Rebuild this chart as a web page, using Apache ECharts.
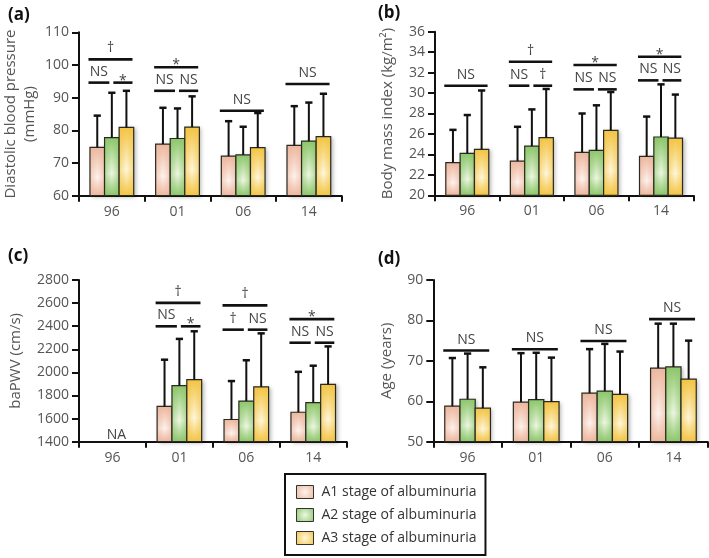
<!DOCTYPE html>
<html>
<head>
<meta charset="utf-8">
<script src="https://cdn.jsdelivr.net/npm/echarts@6/dist/echarts.min.js"></script>
<style>html,body{margin:0;padding:0;background:#fff}#c{width:709px;height:558px}</style>
</head>
<body>
<div id="c"></div>
<script>
// ---------- DATA ----------
const categories = ['96', '01', '06', '14'];
const stageNames = ['A1 stage of albuminuria', 'A2 stage of albuminuria', 'A3 stage of albuminuria'];

// (a) Diastolic blood pressure (mmHg): mean and mean+SD
const dbpA1 = [74.8, 75.8, 72.1, 75.4];
const dbpA1Up = [84.5, 86.9, 82.8, 87.4];
const dbpA2 = [77.8, 77.5, 72.5, 76.7];
const dbpA2Up = [91.5, 86.7, 81.1, 88.5];
const dbpA3 = [80.9, 81.0, 74.7, 78.1];
const dbpA3Up = [92.1, 90.4, 85.3, 91.2];

// (b) Body mass index (kg/m2)
const bmiA1 = [23.2, 23.35, 24.2, 23.8];
const bmiA1Up = [26.4, 26.7, 28.0, 27.7];
const bmiA2 = [24.1, 24.8, 24.4, 25.7];
const bmiA2Up = [27.85, 28.4, 28.8, 30.85];
const bmiA3 = [24.5, 25.65, 26.35, 25.6];
const bmiA3Up = [30.25, 30.4, 30.1, 29.85];

// (c) baPWV (cm/s) - not available in 96
const pwvA1 = [null, 1705, 1592, 1655];
const pwvA1Up = [null, 2110, 1925, 2005];
const pwvA2 = [null, 1885, 1752, 1738];
const pwvA2Up = [null, 2290, 2105, 2058];
const pwvA3 = [null, 1937, 1875, 1897];
const pwvA3Up = [null, 2356, 2338, 2225];

// (d) Age (years)
const ageA1 = [58.8, 59.8, 62.0, 68.2];
const ageA1Up = [70.7, 71.9, 72.9, 79.2];
const ageA2 = [60.5, 60.4, 62.5, 68.5];
const ageA2Up = [71.8, 72.0, 74.2, 79.2];
const ageA3 = [58.3, 59.9, 61.7, 65.5];
const ageA3Up = [68.4, 70.8, 72.3, 75.0];

// significance brackets: [category index, level, span, label]
const dbpSig = [[0, 101.7, 'all', '†'], [0, 94.6, 'left', 'NS'], [0, 94.6, 'right', '*'],
                [1, 99.3, 'all', '*'], [1, 92.1, 'left', 'NS'], [1, 92.1, 'right', 'NS'],
                [2, 86.0, 'all', 'NS'], [3, 94.2, 'all', 'NS']];
const bmiSig = [[0, 30.72, 'all', 'NS'],
                [1, 33.06, 'all', '†'], [1, 30.72, 'left', 'NS'], [1, 30.72, 'right', '†'],
                [2, 32.74, 'all', '*'], [2, 30.36, 'left', 'NS'], [2, 30.36, 'right', 'NS'],
                [3, 33.55, 'all', '*'], [3, 31.24, 'left', 'NS'], [3, 31.24, 'right', 'NS']];
const pwvSig = [[0, 1400, 'none', 'NA'],
                [1, 2602, 'all', '†'], [1, 2399, 'left', 'NS'], [1, 2399, 'right', '*'],
                [2, 2580, 'all', '†'], [2, 2370, 'left', '†'], [2, 2370, 'right', 'NS'],
                [3, 2461, 'all', '*'], [3, 2257, 'left', 'NS'], [3, 2257, 'right', 'NS']];
const ageSig = [[0, 72.55, 'all', 'NS'], [1, 72.87, 'all', 'NS'], [2, 74.9, 'all', 'NS'], [3, 80.33, 'all', 'NS']];

// y-axis scales and titles
const yMins = [60, 20, 1400, 50];
const yMaxs = [110, 36, 2800, 90];
const yIntervals = [10, 2, 200, 10];
const yTitles = ['Diastolic blood pressure\n(mmHg)', 'Body mass index (kg/m²)', 'baPWV (cm/s)', 'Age (years)'];
const panelLabels = ['(a)', '(b)', '(c)', '(d)'];

// ---------- STYLE / LAYOUT ----------
const FONT = 'Open Sans';
const edgeCols = ['#edb69d', '#8cc66a', '#f3c443'];
const lightCols = ['#fdf3ee', '#eef7e3', '#fef7dc'];
const edgeRgb = [[237, 182, 157], [140, 198, 106], [243, 196, 67]];
const grids = [
  {left: 79, top: 32.3, width: 262.7, height: 163.4},
  {left: 435, top: 31.7, width: 258.3, height: 163.6},
  {left: 79, top: 280, width: 267.7, height: 161.7},
  {left: 433.3, top: 280, width: 274.4, height: 161.7}
];
const nameGaps = [40, 38, 54, 37];
const labelPos = [[8, 7], [378, 5], [8, 248], [378, 251]];

const meanSets = [[dbpA1, dbpA2, dbpA3], [bmiA1, bmiA2, bmiA3], [pwvA1, pwvA2, pwvA3], [ageA1, ageA2, ageA3]];
const upSets = [[dbpA1Up, dbpA2Up, dbpA3Up], [bmiA1Up, bmiA2Up, bmiA3Up], [pwvA1Up, pwvA2Up, pwvA3Up], [ageA1Up, ageA2Up, ageA3Up]];
const sigSets = [dbpSig, bmiSig, pwvSig, ageSig];

const BAR_FRAC = 0.222;

function vGrad(s) {
  return new echarts.graphic.LinearGradient(0, 0, 0, 1, [
    {offset: 0, color: edgeCols[s]},
    {offset: 0.62, color: lightCols[s]},
    {offset: 1, color: edgeCols[s]}
  ]);
}
function hGrad(s) {
  const c = edgeRgb[s].join(',');
  return new echarts.graphic.LinearGradient(0, 0, 1, 0, [
    {offset: 0, color: 'rgba(' + c + ',0.6)'},
    {offset: 0.5, color: 'rgba(' + c + ',0)'},
    {offset: 1, color: 'rgba(' + c + ',0.6)'}
  ]);
}
function legendGrad(s) {
  return new echarts.graphic.RadialGradient(0.5, 0.5, 0.8, [
    {offset: 0, color: lightCols[s]},
    {offset: 1, color: edgeCols[s]}
  ]);
}

function barRenderer(s) {
  return function (params, api) {
    const cat = api.value(0), mean = api.value(1), up = api.value(2);
    const topPt = api.coord([cat, mean]);
    const bottom = params.coordSys.y + params.coordSys.height;
    const band = api.size([1, 0])[0];
    const w = band * BAR_FRAC;
    const x = topPt[0] + (s - 1) * w - w / 2;
    const y = topPt[1];
    const h = bottom - y;
    const capY = api.coord([cat, up])[1];
    const cx = x + w / 2;
    const shape = {x: x, y: y, width: w, height: h};
    return {
      type: 'group',
      children: [
        {type: 'rect', shape: shape, style: {fill: vGrad(s), shadowBlur: 4, shadowOffsetX: 2, shadowOffsetY: 1, shadowColor: 'rgba(0,0,0,0.28)'}},
        {type: 'rect', shape: shape, style: {fill: hGrad(s)}},
        {type: 'rect', shape: shape, style: {fill: 'none', stroke: '#2a2a22', lineWidth: 1.2}},
        {type: 'line', shape: {x1: cx, y1: y, x2: cx, y2: capY}, style: {stroke: '#111', lineWidth: 2}},
        {type: 'line', shape: {x1: cx - 3.6, y1: capY, x2: cx + 3.6, y2: capY}, style: {stroke: '#111', lineWidth: 2.5}}
      ]
    };
  };
}

function sigRenderer(sig) {
  return function (params, api) {
    const item = sig[params.dataIndex];
    const span = item[2], label = item[3];
    const cat = api.value(0), lvl = api.value(1);
    const pt = api.coord([cat, lvl]);
    const band = api.size([1, 0])[0];
    const w = band * BAR_FRAC;
    const gL = pt[0] - 1.5 * w, gR = pt[0] + 1.5 * w;
    let x1, x2;
    if (span === 'all') { x1 = gL - 1.5; x2 = gR - 1.2; }
    else if (span === 'left') { x1 = gL - 1.5; x2 = pt[0] - 2.5; }
    else if (span === 'right') { x1 = pt[0] + 1.5; x2 = gR - 1.2; }
    else { x1 = pt[0]; x2 = pt[0]; }
    const children = [];
    if (span !== 'none') {
      children.push({type: 'line', shape: {x1: x1, y1: pt[1], x2: x2, y2: pt[1]}, style: {stroke: '#111', lineWidth: 2.6}});
    }
    let dy = -4;
    if (label === '*') dy = 5;
    if (span === 'none') dy = 0;
    children.push({
      type: 'text',
      x: (x1 + x2) / 2 + (span === 'none' ? 4 : 0),
      y: pt[1] + dy,
      style: {text: label, fill: '#444', font: '14px "' + FONT + '"', align: 'center', verticalAlign: 'bottom'}
    });
    return {type: 'group', children: children};
  };
}

// ---------- BUILD OPTION ----------
const option = {
  animation: false,
  backgroundColor: '#fff',
  textStyle: {fontFamily: FONT},
  grid: grids.map(g => Object.assign({containLabel: false}, g)),
  xAxis: grids.map((g, p) => ({
    type: 'category', gridIndex: p, data: categories, boundaryGap: true,
    axisLine: {lineStyle: {color: '#111', width: 2}},
    axisTick: {show: true, length: 6, lineStyle: {color: '#111', width: 2}},
    axisLabel: {color: '#555', fontSize: 14, fontFamily: FONT, margin: 9}
  })),
  yAxis: grids.map((g, p) => ({
    type: 'value', gridIndex: p, min: yMins[p], max: yMaxs[p], interval: yIntervals[p],
    name: yTitles[p], nameLocation: 'middle', nameGap: nameGaps[p],
    nameTextStyle: {color: '#555', fontSize: 15, fontFamily: FONT, lineHeight: 19},
    axisLine: {show: true, lineStyle: {color: '#111', width: 2}},
    axisTick: {show: true, length: 7, lineStyle: {color: '#111', width: 2}},
    axisLabel: {color: '#555', fontSize: 14, fontFamily: FONT, margin: 10, formatter: v => String(v)},
    splitLine: {show: false}
  })),
  legend: {
    orient: 'vertical', left: 285, top: 474,
    padding: [11, 9, 10, 11],
    borderColor: '#111', borderWidth: 2,
    itemWidth: 17, itemHeight: 13, itemGap: 9,
    textStyle: {color: '#333', fontSize: 14, fontFamily: FONT, padding: [0, 0, 0, 3]},
    data: stageNames.map((n, s) => ({name: n, icon: 'rect', itemStyle: {color: legendGrad(s), borderColor: '#333', borderWidth: 1}}))
  },
  graphic: panelLabels.map((t, p) => ({
    type: 'text', left: labelPos[p][0], top: labelPos[p][1],
    style: {text: t, font: 'bold 17px "' + FONT + '"', fill: '#111'}
  })),
  series: []
};

for (let p = 0; p < 4; p++) {
  for (let s = 0; s < 3; s++) {
    const data = [];
    categories.forEach((c, i) => {
      const m = meanSets[p][s][i];
      if (m !== null) data.push([i, m, upSets[p][s][i]]);
    });
    option.series.push({
      type: 'custom', name: stageNames[s], xAxisIndex: p, yAxisIndex: p,
      itemStyle: {color: edgeCols[s]},
      renderItem: barRenderer(s), data: data, clip: false, silent: true
    });
  }
  option.series.push({
    type: 'custom', name: 'sig' + p, xAxisIndex: p, yAxisIndex: p,
    renderItem: sigRenderer(sigSets[p]),
    data: sigSets[p].map(d => [d[0], d[1]]), clip: false, silent: true, z: 5
  });
}

const chart = echarts.init(document.getElementById('c'), null, {renderer: 'canvas'});
chart.setOption(option);
</script>
</body>
</html>
